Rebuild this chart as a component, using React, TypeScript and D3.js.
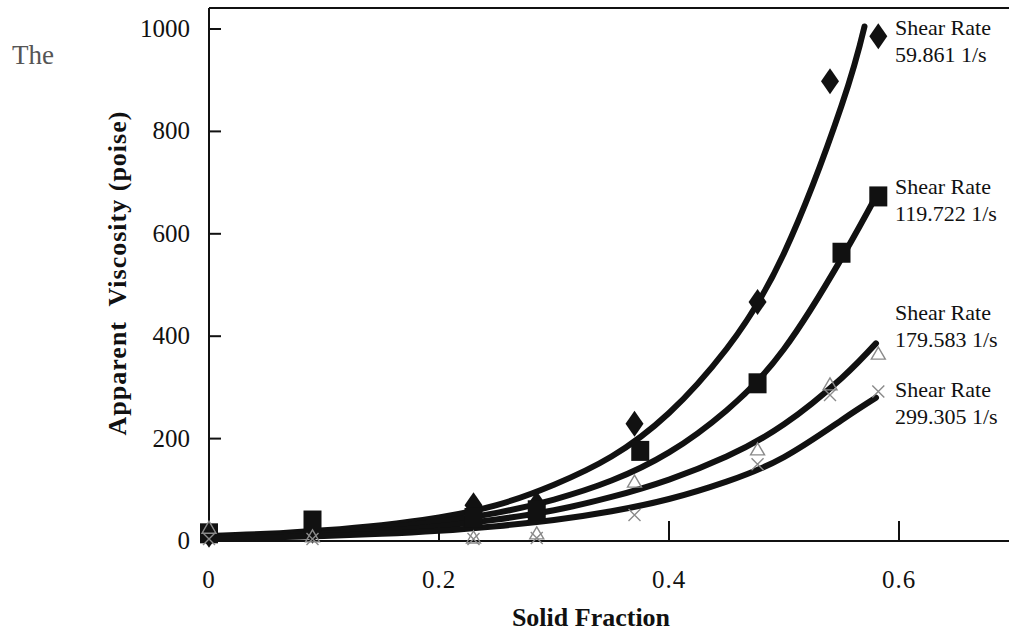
import React from "react";
import * as d3 from "d3";

const W = 1009;
const H = 635;

// Axis ticks
const xTicks = [0, 0.2, 0.4, 0.6];
const yTicks = [0, 200, 400, 600, 800, 1000];
const xTickLabels = ["0", "0.2", "0.4", "0.6"];

// Measured points (solid fraction vs apparent viscosity, poise)
const sampleX = [0, 0.09, 0.23, 0.285, 0.37, 0.477, 0.54, 0.582];
const squareX = [0, 0.09, 0.23, 0.285, 0.375, 0.477, 0.55, 0.582];
const diamondVals = [12, 20, 70, 72, 229, 467, 898, 986];
const squareVals = [15, 40, 45, 60, 176, 308, 563, 673];
const triangleVals = [25, 8, 6, 14, 115, 178, 305, 365];
const crossVals = [4, 4, 4, 6, 51, 150, 285, 292];

// Fitted trend curves
const fitX = [0, 0.05, 0.1, 0.15, 0.2, 0.25, 0.3, 0.35, 0.4, 0.45, 0.5, 0.55, 0.58];
const fitX1 = [0, 0.05, 0.1, 0.15, 0.2, 0.25, 0.3, 0.35, 0.4, 0.45, 0.5, 0.55, 0.57];
const fit1 = [10, 14, 21, 31, 46, 70, 110, 165, 250, 375, 562, 850, 1005];
const fit2 = [8, 12, 18, 26, 38, 55, 81, 118, 173, 255, 375, 552, 673];
const fit3 = [7, 10, 14, 20, 29, 42, 60, 86, 120, 165, 228, 318, 386];
const fit4 = [5, 7, 10, 14, 20, 29, 41, 58, 82, 116, 164, 236, 280];

// Curve labels
const shearRates = ["59.861 1/s", "119.722 1/s", "179.583 1/s", "299.305 1/s"];
const labelAnchor = [988, 678, 432, 281];

const FONT = "'Liberation Serif', 'Times New Roman', serif";

export default function App() {
  const x = d3.scaleLinear().domain([0, 0.7]).range([209, 1014]);
  const y = d3.scaleLinear().domain([0, 1000]).range([541, 29]);
  const frameTop = y(1041);

  const line = d3
    .line<[number, number]>()
    .x((d) => x(d[0]))
    .y((d) => y(d[1]))
    .curve(d3.curveNatural);

  const curves = [
    fitX1.map((v, i) => [v, fit1[i]] as [number, number]),
    fitX.map((v, i) => [v, fit2[i]] as [number, number]),
    fitX.map((v, i) => [v, fit3[i]] as [number, number]),
    fitX.map((v, i) => [v, fit4[i]] as [number, number]),
  ];

  const ink = "#111";
  const markGrey = "#8a8a8a";

  return (
    <svg
      width={W}
      height={H}
      viewBox={`0 0 ${W} ${H}`}
      style={{ position: "absolute", left: 0, top: 0, background: "#fff" }}
    >
      <rect x={0} y={0} width={W} height={H} fill="#fff" />

      <text x={12} y={64} fontFamily={FONT} fontSize={27} fill="#555">
        The
      </text>

      {/* frame */}
      <line x1={x(0)} x2={W} y1={frameTop} y2={frameTop} stroke={ink} strokeWidth={2} />
      <line x1={x(0)} x2={x(0)} y1={frameTop} y2={y(0)} stroke={ink} strokeWidth={2} />
      <line x1={x(0)} x2={W} y1={y(0)} y2={y(0)} stroke={ink} strokeWidth={2} />

      {/* y ticks */}
      {yTicks.map((t) => (
        <g key={"yt" + t}>
          <line x1={x(0)} x2={x(0) + 12} y1={y(t)} y2={y(t)} stroke={ink} strokeWidth={2} />
          <text
            x={190}
            y={y(t) + 8}
            textAnchor="end"
            fontFamily={FONT}
            fontSize={25}
            fill={ink}
          >
            {t}
          </text>
        </g>
      ))}

      {/* x ticks */}
      {xTicks.map((t, i) => (
        <g key={"xt" + t}>
          {t > 0 && (
            <line x1={x(t)} x2={x(t)} y1={y(0)} y2={y(0) - 20} stroke={ink} strokeWidth={2} />
          )}
          <text
            x={x(t)}
            y={588}
            textAnchor="middle"
            fontFamily={FONT}
            fontSize={25}
            letterSpacing={1}
            fill={ink}
          >
            {xTickLabels[i]}
          </text>
        </g>
      ))}

      {/* axis titles */}
      <text
        x={591}
        y={626}
        textAnchor="middle"
        fontFamily={FONT}
        fontSize={26}
        fontWeight="bold"
        fill={ink}
      >
        Solid Fraction
      </text>
      <text
        transform={`translate(126,273) rotate(-90)`}
        textAnchor="middle"
        fontFamily={FONT}
        fontSize={26}
        fontWeight="bold"
        letterSpacing={1}
        fill={ink}
        style={{ whiteSpace: "pre" }}
      >
        {"Apparent  Viscosity (poise)"}
      </text>

      {/* fitted curves */}
      {curves.map((c, i) => (
        <path
          key={"c" + i}
          d={line(c) || ""}
          fill="none"
          stroke={ink}
          strokeWidth={6}
          strokeLinecap="round"
          strokeLinejoin="round"
        />
      ))}

      {/* diamonds */}
      {sampleX.map((v, i) => {
        const cx = x(v);
        const cy = y(diamondVals[i]);
        return (
          <path
            key={"d" + i}
            d={`M${cx},${cy - 13}L${cx + 9},${cy}L${cx},${cy + 13}L${cx - 9},${cy}Z`}
            fill={ink}
          />
        );
      })}

      {/* squares */}
      {squareX.map((v, i) => (
        <rect
          key={"s" + i}
          x={x(v) - 9}
          y={y(squareVals[i]) - 10}
          width={18}
          height={20}
          fill={ink}
        />
      ))}

      {/* triangles */}
      {sampleX.map((v, i) => {
        const cx = x(v);
        const cy = y(triangleVals[i]);
        return (
          <path
            key={"t" + i}
            d={`M${cx},${cy - 7}L${cx + 7},${cy + 5}L${cx - 7},${cy + 5}Z`}
            fill="none"
            stroke={markGrey}
            strokeWidth={1.4}
          />
        );
      })}

      {/* crosses */}
      {sampleX.map((v, i) => {
        const cx = x(v);
        const cy = y(crossVals[i]);
        return (
          <path
            key={"x" + i}
            d={`M${cx - 6},${cy - 6}L${cx + 6},${cy + 6}M${cx + 6},${cy - 6}L${cx - 6},${cy + 6}`}
            fill="none"
            stroke={markGrey}
            strokeWidth={1.4}
          />
        );
      })}

      {/* curve labels */}
      {shearRates.map((s, i) => (
        <text
          key={"l" + i}
          x={895}
          y={y(labelAnchor[i])}
          fontFamily={FONT}
          fontSize={22}
          fill={ink}
        >
          <tspan x={895}>Shear Rate</tspan>
          <tspan x={895} dy={27}>
            {s}
          </tspan>
        </text>
      ))}
    </svg>
  );
}
